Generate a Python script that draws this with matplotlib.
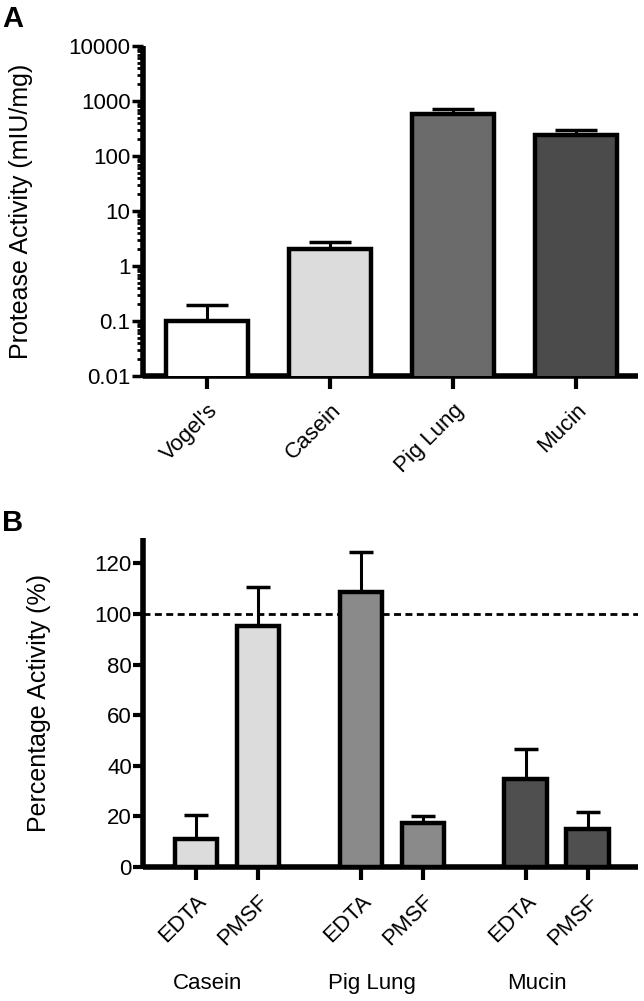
import numpy as np
import matplotlib
matplotlib.use('Agg')
import matplotlib.pyplot as plt
from matplotlib.ticker import LogLocator, FixedLocator, NullFormatter

# Panel A data
substrates = ["Vogel's", "Casein", "Pig Lung", "Mucin"]
activity = [0.1, 2.05, 580, 236]
activity_err = [0.095, 0.67, 135, 64]
colors_a = ['#ffffff', '#dcdcdc', '#6b6b6b', '#4b4b4b']

# Panel B data
groups = ['Casein', 'Pig Lung', 'Mucin']
inhibitors = ['EDTA', 'PMSF']
pct_activity = [[11.2, 95.2], [108.8, 17.4], [34.9, 14.9]]
pct_err = [[9.5, 15.5], [15.8, 2.9], [11.8, 6.8]]
colors_b = ['#dcdcdc', '#8a8a8a', '#4f4f4f']

plt.rcParams['font.family'] = ['Liberation Sans', 'DejaVu Sans']
plt.rcParams['font.size'] = 16

W, H = 644, 1001
fig = plt.figure(figsize=(W / 100, H / 100), dpi=100)

def style_axes(ax):
    for s in ['top', 'right']:
        ax.spines[s].set_visible(False)
    for s in ['left', 'bottom']:
        ax.spines[s].set_linewidth(4)
        ax.spines[s].set_capstyle('butt')

# ---- Panel A ----
axA = fig.add_axes([143 / W, 1 - 376 / H, 495 / W, 330 / H])
xa = np.arange(len(substrates))
axA.bar(xa, activity, width=0.665, color=colors_a, edgecolor='black',
        linewidth=3.2, zorder=3)
axA.errorbar(xa, activity, yerr=[np.zeros(len(xa)), activity_err], fmt='none',
             ecolor='black', elinewidth=2.2, capsize=15, capthick=2.5, zorder=2)
axA.set_yscale('log')
axA.set_ylim(0.01, 10000)
axA.set_xlim(-0.52, 3.5)
axA.yaxis.set_major_locator(FixedLocator([0.01, 0.1, 1, 10, 100, 1000, 10000]))
axA.set_yticklabels(['0.01', '0.1', '1', '10', '100', '1000', '10000'])
axA.yaxis.set_minor_locator(LogLocator(base=10, subs=np.arange(2, 10)))
axA.yaxis.set_minor_formatter(NullFormatter())
axA.tick_params(axis='y', which='major', length=8, width=2.5, pad=1)
axA.tick_params(axis='y', which='minor', length=4, width=2)
axA.set_xticks(xa)
axA.set_xticklabels(substrates, rotation=45, ha='right', rotation_mode='anchor')
axA.tick_params(axis='x', length=9, width=3, pad=8)
axA.set_ylabel('Protease Activity (mIU/mg)', fontsize=18)
axA.yaxis.set_label_coords(-0.222, 0.5)
style_axes(axA)

# ---- Panel B ----
axB = fig.add_axes([143 / W, 1 - 867 / H, 495 / W, 329 / H])
gap = 2.66
xb, labels_b, heights, errs, cols = [], [], [], [], []
for g, grp in enumerate(groups):
    for i, inh in enumerate(inhibitors):
        xb.append(g * gap + i)
        labels_b.append(inh)
        heights.append(pct_activity[g][i])
        errs.append(pct_err[g][i])
        cols.append(colors_b[g])
axB.bar(xb, heights, width=0.69, color=cols, edgecolor='black',
        linewidth=3.2, zorder=3)
axB.errorbar(xb, heights, yerr=[np.zeros(len(xb)), errs], fmt='none',
             ecolor='black', elinewidth=2.2, capsize=8.5, capthick=2.5, zorder=2)
axB.axhline(100, color='black', linewidth=2, dashes=(2.5, 1.6), zorder=1)
axB.set_ylim(0, 130)
axB.set_xlim(-0.855, 7.13)
axB.set_yticks([0, 20, 40, 60, 80, 100, 120])
axB.tick_params(axis='y', length=7, width=3, pad=1)
axB.set_xticks(xb)
axB.set_xticklabels(labels_b, rotation=45, ha='right', rotation_mode='anchor')
axB.tick_params(axis='x', length=9, width=3, pad=8)
axB.set_ylabel('Percentage Activity (%)', fontsize=18)
axB.yaxis.set_label_coords(-0.186, 0.5)
for g, grp in enumerate(groups):
    axB.text(g * gap + 0.18, -0.353, grp, ha='center', va='center',
             transform=axB.get_xaxis_transform())
style_axes(axB)

fig.text(0.003, 1 - 5 / H, 'A', fontsize=21, fontweight='bold', va='top')
fig.text(0.003, 1 - 509 / H, 'B', fontsize=21, fontweight='bold', va='top')

fig.savefig('out.png', dpi=100)
